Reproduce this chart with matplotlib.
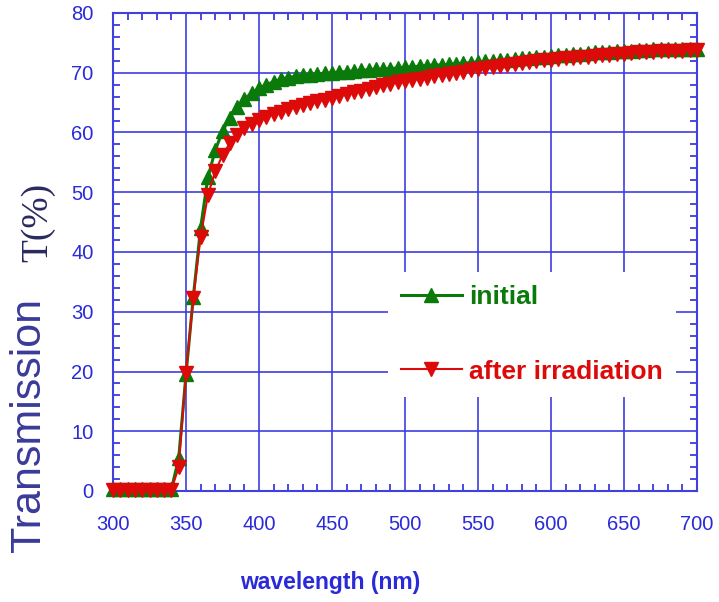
import matplotlib
matplotlib.use("Agg")
import matplotlib.pyplot as plt
import numpy as np
from matplotlib.ticker import MultipleLocator

wavelength = list(range(300, 705, 5))

initial = [0.3, 0.3, 0.3, 0.3, 0.3, 0.3, 0.3, 0.3, 0.3,
           5.5, 19.5, 32.5, 44.0, 52.5, 57.0, 60.2, 62.5, 64.2, 65.6,
           66.6, 67.4, 68.0, 68.5, 68.9, 69.2, 69.4, 69.6, 69.7, 69.8,
           69.9, 70.0, 70.1, 70.2, 70.3, 70.4, 70.5, 70.6, 70.6, 70.7,
           70.8, 70.9, 71.0, 71.1, 71.2, 71.3, 71.3, 71.4, 71.5, 71.6,
           71.7, 71.8, 71.9, 72.0, 72.1, 72.2, 72.3, 72.4, 72.5, 72.6,
           72.7, 72.8, 72.9, 73.0, 73.1, 73.2, 73.3, 73.4, 73.5, 73.5,
           73.6, 73.7, 73.7, 73.8, 73.8, 73.9, 73.9, 73.9, 74.0, 74.0,
           74.0, 74.0]

after = [0.2, 0.2, 0.2, 0.2, 0.2, 0.2, 0.2, 0.2, 0.2,
         4.0, 19.8, 32.3, 42.5, 49.5, 53.5, 56.2, 58.2, 59.6, 60.7,
         61.5, 62.1, 62.6, 63.1, 63.5, 63.9, 64.3, 64.6, 64.9, 65.2,
         65.5, 65.8, 66.1, 66.4, 66.7, 67.0, 67.3, 67.6, 67.9, 68.2,
         68.4, 68.6, 68.8, 69.0, 69.2, 69.4, 69.6, 69.8, 70.0, 70.2,
         70.4, 70.6, 70.8, 71.0, 71.2, 71.3, 71.5, 71.6, 71.8, 71.9,
         72.1, 72.2, 72.3, 72.4, 72.5, 72.6, 72.7, 72.8, 72.9, 73.0,
         73.1, 73.2, 73.3, 73.4, 73.5, 73.5, 73.6, 73.6, 73.7, 73.7,
         73.8, 73.8]

xticks = [300, 350, 400, 450, 500, 550, 600, 650, 700]
yticks = [0, 10, 20, 30, 40, 50, 60, 70, 80]

BLUE = '#2a2ad8'
GREEN = '#0a7a0a'
RED = '#dd0a0a'
SANS = ['Liberation Sans', 'DejaVu Sans']

fig = plt.figure(figsize=(7.19, 6.02), dpi=100)
ax = fig.add_axes([113/719, 1-491/602, (697-113)/719, (491-13)/602])

ax.plot(wavelength, initial, color=GREEN, lw=2.2, marker='^', markersize=9.5,
        label='initial', clip_on=False, zorder=3)
ax.plot(wavelength, after, color=RED, lw=1.5, marker='v', markersize=9.5,
        label='after irradiation', clip_on=False, zorder=4)

ax.set_xlim(300, 700)
ax.set_ylim(0, 80)
ax.set_xticks(xticks)
ax.set_yticks(yticks)
ax.xaxis.set_minor_locator(MultipleLocator(10))
ax.yaxis.set_minor_locator(MultipleLocator(2))
ax.grid(True, which='major', color='#3c3ce0', lw=1.4, alpha=0.85)
ax.set_axisbelow(True)
ax.tick_params(which='both', direction='in', top=True, right=True, color=BLUE, width=1.2)
ax.tick_params(which='major', length=0, pad=14)
ax.tick_params(axis='x', which='major', pad=17)
ax.tick_params(which='minor', length=5)
for s in ax.spines.values():
    s.set_color('#4040e0')
    s.set_linewidth(1.5)

for lab in ax.get_xticklabels() + ax.get_yticklabels():
    lab.set_family(SANS)
    lab.set_fontsize(14.5)
    lab.set_color(BLUE)

fig.text(330/719, 1-583/602, 'wavelength (nm)', ha='center', va='center',
         family=SANS, fontweight='bold', fontsize=16.5, color=BLUE)
fig.text(29/719, 1-425/602, 'Transmission', rotation=90, ha='center', va='center',
         family=SANS, fontsize=31, color='#3a3a9a')
fig.text(38/719, 1-222/602, 'T(%)', rotation=90, ha='center', va='center',
         family=['Liberation Serif', 'DejaVu Serif'], fontsize=27, color='#2a2a60')

leg = ax.legend(loc='center', bbox_to_anchor=(532/719, 1-334.5/602),
                bbox_transform=fig.transFigure, numpoints=1, handlelength=2.3,
                labelspacing=1.9, prop={'family': SANS, 'weight': 'bold', 'size': 19},
                labelcolor='linecolor', frameon=True, fancybox=False,
                edgecolor='none', facecolor='white', framealpha=1.0,
                borderpad=0.5, handletextpad=0.3)

fig.savefig('out.png', dpi=100)
